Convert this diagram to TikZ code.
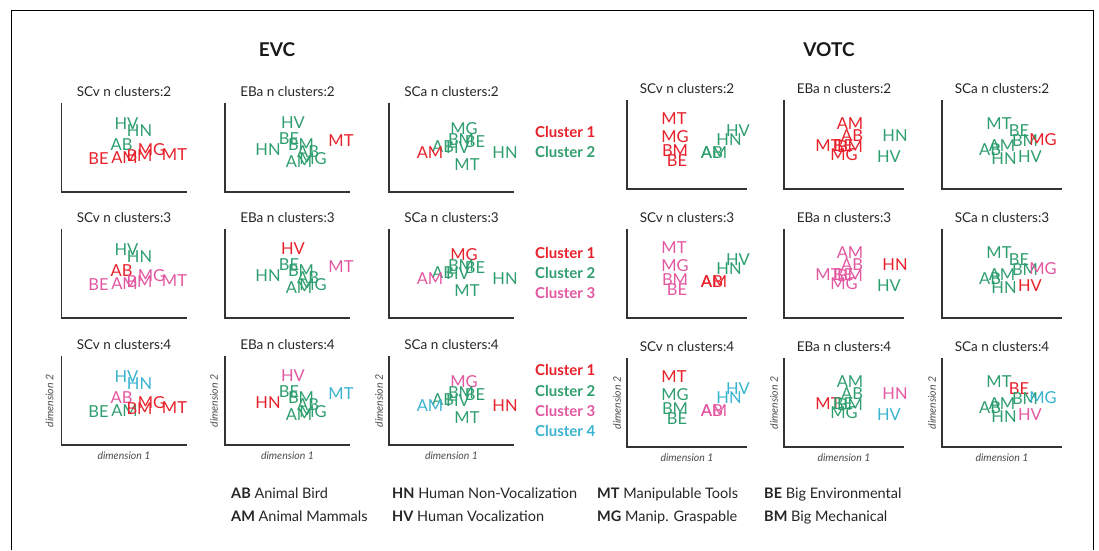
\documentclass[tikz,border=0pt]{standalone}
\usepackage{fontspec}
\setmainfont{Lato}
\usetikzlibrary{calc}

\definecolor{clred}{HTML}{E8202A}
\definecolor{clgreen}{HTML}{2F9E6E}
\definecolor{clpink}{HTML}{E357A0}
\definecolor{clcyan}{HTML}{39B3CF}

\tikzset{
  frameline/.style={draw=black, line width=1pt},
  axisline/.style={draw=black!80, line width=1.5pt},
  item/.style={font=\fontsize{16.5}{16.5}\selectfont, inner sep=0pt},
  paneltitle/.style={font=\fontsize{13.5}{13.5}\selectfont, text=black!85, inner sep=0pt},
  bigtitle/.style={font=\fontsize{19}{19}\selectfont\bfseries, text=black!90, inner sep=0pt},
  clusterlab/.style={font=\fontsize{15}{15}\selectfont\bfseries, anchor=base west, inner sep=0pt},
  dimlab/.style={font=\fontsize{10.5}{10.5}\selectfont\itshape, text=black!70, inner sep=0pt},
  keylab/.style={font=\fontsize{14.5}{14.5}\selectfont, text=black!85, anchor=base west, inner sep=0pt}
}

% one scatter panel: name, axis corner, axis width, title, items
\newcommand{\scatterpanel}[5]{%
  \coordinate (#1) at (#2);
  \draw[axisline] ($(#1)+(0,-89)$) -- (#1) -- ($(#1)+(#3,0)$);
  \node[paneltitle] (#1-title) at ($(#1)+(#3/2,-100)$) {#4};
  \edef\itemlist{#5}%
  \foreach \lab/\dx/\dy/\col in \itemlist
    \node[item, text=\col] (#1-\lab) at ($(#1)+(\dx,\dy)$) {\lab};
}
\newcommand{\dimlabels}[3]{%
  \node[dimlab] (#1-dx) at ($(#1)+(#2/2,11)$) {dimension 1};
  \node[dimlab, rotate=90] (#1-dy) at ($(#1)+(#3,-44)$) {dimension 2};
}

\newcommand{\evcscv}[8]{HV/65/-68/#1,HN/78/-61/#2,AB/60/-47/#3,BE/37/-33/#4,AM/63/-34/#5,BM/78/-36/#6,MG/90/-42/#7,MT/113/-37/#8}
\newcommand{\evceba}[8]{HV/68/-69/#1,MT/116/-51/#2,BE/64/-53/#3,HN/43/-42/#4,BM/76/-47/#5,AB/83/-40/#6,AM/74/-30/#7,MG/88/-33/#8}
\newcommand{\evcsca}[8]{MG/75/-63/#1,BE/86/-50/#2,BM/72/-52/#3,AB/54/-45/#4,HV/69/-44/#5,AM/41/-39/#6,HN/116/-39/#7,MT/78/-27/#8}
\newcommand{\votcscv}[8]{MT/47/-70/#1,MG/48/-52/#2,BM/48/-38/#3,BE/50/-28/#4,AB/85/-36/#5,AM/87/-36/#6,HN/102/-49/#7,HV/111/-58/#8}
\newcommand{\votceba}[8]{AM/66/-65/#1,AB/68/-53/#2,MT/44/-43/#3,BE/59/-43/#4,BM/66/-42/#5,MG/60/-34/#6,HN/111/-53/#7,HV/105/-32/#8}
\newcommand{\votcsca}[8]{MT/57/-65/#1,BE/77/-58/#2,BM/83/-48/#3,MG/101/-49/#4,AM/60/-43/#5,AB/48/-39/#6,HN/62/-30/#7,HV/88/-32/#8}

\begin{document}
\begin{tikzpicture}[x=1pt,y=-1pt]
\useasboundingbox (0,0) rectangle (1099,550);
\draw[frameline] (11.5,550) -- (11.5,10) -- (1093,10) -- (1093,550);

\node[bigtitle] (evc) at (277,50) {EVC};
\node[bigtitle] (votc) at (829,50) {VOTC};

% EVC
\scatterpanel{ea1}{61.5,192}{125}{SCv n clusters:2}{\evcscv{clgreen}{clgreen}{clgreen}{clred}{clred}{clred}{clred}{clred}}
\scatterpanel{eb1}{225,192}{125}{EBa n clusters:2}{\evceba{clgreen}{clred}{clgreen}{clgreen}{clgreen}{clgreen}{clgreen}{clgreen}}
\scatterpanel{ec1}{389,192}{125}{SCa n clusters:2}{\evcsca{clgreen}{clgreen}{clgreen}{clgreen}{clgreen}{clred}{clgreen}{clgreen}}
\scatterpanel{ea2}{61.5,318}{125}{SCv n clusters:3}{\evcscv{clgreen}{clgreen}{clred}{clpink}{clpink}{clpink}{clpink}{clpink}}
\scatterpanel{eb2}{225,318}{125}{EBa n clusters:3}{\evceba{clred}{clpink}{clgreen}{clgreen}{clgreen}{clgreen}{clgreen}{clgreen}}
\scatterpanel{ec2}{389,318}{125}{SCa n clusters:3}{\evcsca{clred}{clgreen}{clgreen}{clgreen}{clgreen}{clpink}{clgreen}{clgreen}}
\scatterpanel{ea3}{61.5,445}{125}{SCv n clusters:4}{\evcscv{clcyan}{clcyan}{clpink}{clgreen}{clgreen}{clred}{clred}{clred}}
\scatterpanel{eb3}{225,445}{125}{EBa n clusters:4}{\evceba{clpink}{clcyan}{clgreen}{clred}{clgreen}{clgreen}{clgreen}{clgreen}}
\scatterpanel{ec3}{389,445}{125}{SCa n clusters:4}{\evcsca{clpink}{clgreen}{clgreen}{clgreen}{clgreen}{clcyan}{clred}{clgreen}}

% VOTC
\scatterpanel{va1}{627,189}{120}{SCv n clusters:2}{\votcscv{clred}{clred}{clred}{clred}{clgreen}{clgreen}{clgreen}{clgreen}}
\scatterpanel{vb1}{784,189}{120}{EBa n clusters:2}{\votceba{clred}{clred}{clred}{clred}{clred}{clred}{clgreen}{clgreen}}
\scatterpanel{vc1}{942,189}{120}{SCa n clusters:2}{\votcsca{clgreen}{clgreen}{clgreen}{clred}{clgreen}{clgreen}{clgreen}{clgreen}}
\scatterpanel{va2}{627,318}{120}{SCv n clusters:3}{\votcscv{clpink}{clpink}{clpink}{clpink}{clred}{clred}{clgreen}{clgreen}}
\scatterpanel{vb2}{784,318}{120}{EBa n clusters:3}{\votceba{clpink}{clpink}{clpink}{clpink}{clpink}{clpink}{clred}{clgreen}}
\scatterpanel{vc2}{942,318}{120}{SCa n clusters:3}{\votcsca{clgreen}{clgreen}{clgreen}{clpink}{clgreen}{clgreen}{clgreen}{clred}}
\scatterpanel{va3}{627,447}{120}{SCv n clusters:4}{\votcscv{clred}{clgreen}{clgreen}{clgreen}{clpink}{clpink}{clcyan}{clcyan}}
\scatterpanel{vb3}{784,447}{120}{EBa n clusters:4}{\votceba{clgreen}{clgreen}{clred}{clgreen}{clgreen}{clgreen}{clpink}{clcyan}}
\scatterpanel{vc3}{942,447}{120}{SCa n clusters:4}{\votcsca{clgreen}{clred}{clgreen}{clcyan}{clgreen}{clgreen}{clgreen}{clpink}}

\dimlabels{ea3}{125}{-12}
\dimlabels{eb3}{125}{-11}
\dimlabels{ec3}{125}{-10}
\dimlabels{va3}{120}{-10}
\dimlabels{vb3}{120}{-10}
\dimlabels{vc3}{120}{-10}

% cluster keys
\node[clusterlab, text=clred] (k21) at (535,137.5) {Cluster 1};
\node[clusterlab, text=clgreen] (k22) at (535,157.5) {Cluster 2};
\node[clusterlab, text=clred] (k31) at (535,258.5) {Cluster 1};
\node[clusterlab, text=clgreen] (k32) at (535,278.5) {Cluster 2};
\node[clusterlab, text=clpink] (k33) at (535,298.5) {Cluster 3};
\node[clusterlab, text=clred] (k41) at (535,375.5) {Cluster 1};
\node[clusterlab, text=clgreen] (k42) at (535,396) {Cluster 2};
\node[clusterlab, text=clpink] (k43) at (535,416.5) {Cluster 3};
\node[clusterlab, text=clcyan] (k44) at (535,436.5) {Cluster 4};

% category key
\node[keylab] (kab) at (231,498) {\textbf{AB} Animal Bird};
\node[keylab] (kam) at (231,521) {\textbf{AM} Animal Mammals};
\node[keylab] (khn) at (392,498) {\textbf{HN} Human Non-Vocalization};
\node[keylab] (khv) at (392,521) {\textbf{HV} Human Vocalization};
\node[keylab] (kmt) at (597,498) {\textbf{MT} Manipulable Tools};
\node[keylab] (kmg) at (597,521) {\textbf{MG} Manip. Graspable};
\node[keylab] (kbe) at (764,498) {\textbf{BE} Big Environmental};
\node[keylab] (kbm) at (764,521) {\textbf{BM} Big Mechanical};
\end{tikzpicture}
\end{document}
